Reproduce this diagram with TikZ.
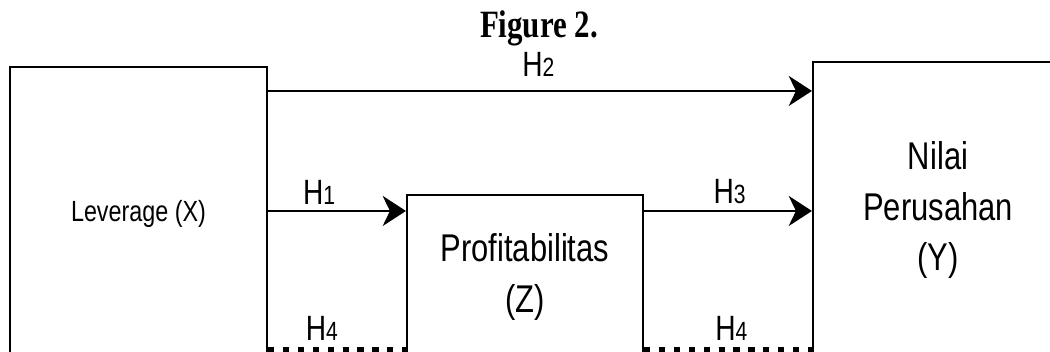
\documentclass[tikz,border=0pt]{standalone}
\usepackage{fontspec}
\setmainfont{Liberation Serif}
\newfontfamily\diagfont{Liberation Sans}
\usetikzlibrary{arrows.meta,positioning,calc}

\tikzset{
	varbox/.style={draw,line width=1.5pt,align=center,inner sep=0pt,font=\diagfont\fontsize{22}{28.5}\selectfont},
	arr/.style={line width=1.6pt,-{Stealth[length=5.8mm,width=7.5mm,inset=1.8mm]}},
	dotline/.style={line width=3.2pt,dash pattern=on 4.4pt off 6.2pt},
	hlbl/.style={inner sep=0pt,font=\diagfont\fontsize{20}{23}\selectfont}
}
\newcommand{\hnum}[1]{H{\fontsize{15}{17}\selectfont #1}}

\begin{document}
\begin{tikzpicture}[yscale=1.25,transform shape]
	\useasboundingbox (0,0) rectangle (26.25,7.02);
	\clip (0,0) rectangle (26.25,7.02);
	\node[anchor=base,font=\bfseries\fontsize{22}{26}\selectfont] (title) at (13.475,6.26) {Figure 2.};
	\node[varbox,minimum width=6.425cm,minimum height=5.88cm,font=\diagfont\fontsize{16.6}{20}\selectfont] (lev) at (3.4625,2.74) {Leverage (X)};
	\node[varbox,minimum width=6.25cm,minimum height=5.92cm] (nil) at (23.45,2.82) {Nilai\\Perusahan\\(Y)};
	\node[varbox,minimum width=5.9cm,minimum height=3.28cm] (prof) at (13.125,1.48) {Profitabilitas\\(Z)};
	\coordinate (h2y) at (0,5.2);
	\coordinate (h13y) at (0,2.8);
	\coordinate (h4y) at (0,0.03);
	\draw[arr] (lev.east |- h2y) -- (nil.west |- h2y) node[hlbl,pos=0.497,above=0.26cm] (h2) {\hnum{2}};
	\draw[arr] (lev.east |- h13y) -- (prof.west |- h13y) node[hlbl,pos=0.37,above=0.11cm] (h1) {\hnum{1}};
	\draw[arr] (prof.east |- h13y) -- (nil.west |- h13y) node[hlbl,pos=0.51,above=0.11cm] (h3) {\hnum{3}};
	\draw[dotline] (lev.east |- h4y) -- (prof.west |- h4y) node[hlbl,pos=0.39,above=0.12cm] (h4a) {\hnum{4}};
	\draw[dotline] (prof.east |- h4y) -- (nil.west |- h4y) node[hlbl,pos=0.52,above=0.12cm] (h4b) {\hnum{4}};
\end{tikzpicture}
\end{document}
